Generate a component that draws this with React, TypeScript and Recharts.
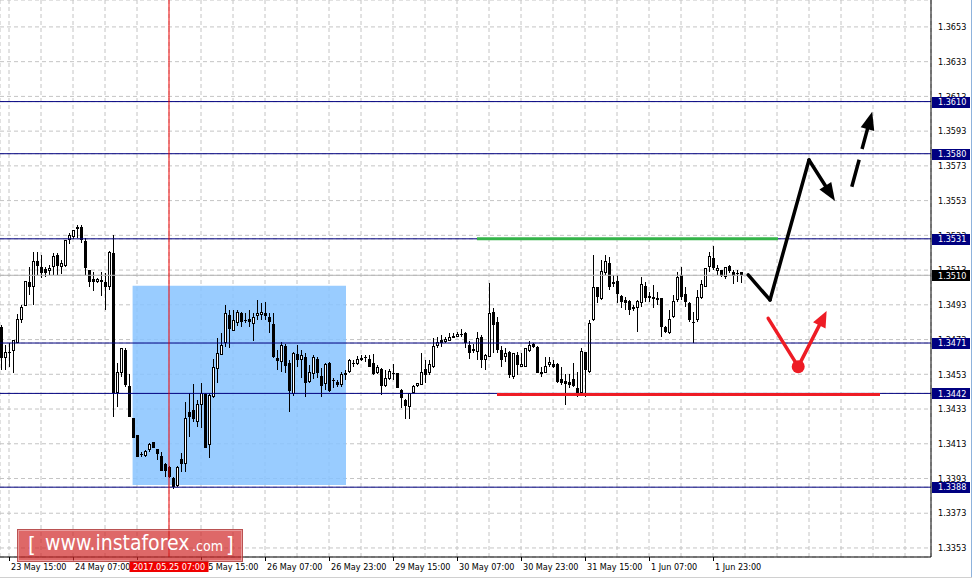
import React from 'react';
import {
  ComposedChart, Bar, XAxis, YAxis, CartesianGrid, ReferenceLine, ReferenceArea, ReferenceDot,
} from 'recharts';

// ---- hourly candles, index 0 = 23 May 13:00 ----
const opens = [
  1.34804,1.34622,1.34656,1.34666,1.34712,1.34843,1.34925,1.35063,1.35035,1.35184,
  1.35150,1.35134,1.35127,1.35150,1.35217,1.35146,1.35155,1.35303,1.35322,1.35370,
  1.35376,1.35299,1.35130,1.35077,1.35061,1.35073,1.35063,1.35035,1.35226,1.34420,
  1.34539,1.34670,1.34463,1.34276,1.34180,1.34069,1.34060,1.34094,1.34138,1.34098,
  1.34059,1.34014,1.33998,1.33931,1.33889,1.34042,1.34012,1.34315,1.34324,1.34257,
  1.34353,1.34417,1.34121,1.34397,1.34559,1.34641,1.34708,1.34871,1.34779,1.34827,
  1.34881,1.34843,1.34848,1.34820,1.34867,1.34869,1.34885,1.34862,1.34820,1.34622,
  1.34603,1.34693,1.34593,1.34417,1.34647,1.34612,1.34631,1.34488,1.34532,1.34616,
  1.34520,1.34474,1.34597,1.34497,1.34488,1.34468,1.34532,1.34541,1.34597,1.34589,
  1.34612,1.34627,1.34616,1.34593,1.34539,1.34559,1.34465,1.34503,1.34539,1.34536,
  1.34440,1.34382,1.34340,1.34424,1.34465,1.34468,1.34559,1.34539,1.34574,1.34693,
  1.34727,1.34718,1.34724,1.34737,1.34747,1.34762,1.34770,1.34699,1.34666,1.34660,
  1.34743,1.34612,1.34628,1.34887,1.34829,1.34670,1.34628,1.34660,1.34516,1.34641,
  1.34574,1.34574,1.34666,1.34702,1.34689,1.34545,1.34539,1.34583,1.34589,1.34589,
  1.34501,1.34491,1.34488,1.34501,1.34449,1.34424,1.34660,1.34545,1.34843,1.35035,
  1.34964,1.35115,1.35173,1.35050,1.35067,1.34981,1.34958,1.34954,1.34916,1.34910,
  1.34939,1.35038,1.34981,1.34961,1.34967,1.34967,1.34800,1.34766,1.34858,1.34958,
  1.35102,1.34992,1.34939,1.34829,1.34843,1.34967,1.35035,1.35146,1.35198,1.35127,
  1.35130,1.35088,1.35155,1.35117,1.35111,1.35117,
];
const highs = [
  1.34814,1.34699,1.34708,1.34727,1.34877,1.34929,1.35067,1.35150,1.35236,1.35236,
  1.35217,1.35150,1.35159,1.35230,1.35230,1.35188,1.35303,1.35342,1.35361,1.35390,
  1.35390,1.35313,1.35130,1.35121,1.35082,1.35121,1.35111,1.35242,1.35332,1.34593,
  1.34679,1.34683,1.34532,1.34276,1.34180,1.34085,1.34094,1.34136,1.34142,1.34102,
  1.34085,1.34017,1.34002,1.33937,1.34002,1.34075,1.34372,1.34424,1.34474,1.34382,
  1.34478,1.34424,1.34420,1.34616,1.34737,1.34766,1.34929,1.34900,1.34900,1.34900,
  1.34891,1.34881,1.34900,1.34881,1.34958,1.34943,1.34948,1.34881,1.34881,1.34670,
  1.34718,1.34704,1.34612,1.34660,1.34699,1.34670,1.34651,1.34583,1.34641,1.34631,
  1.34564,1.34593,1.34603,1.34507,1.34497,1.34545,1.34555,1.34616,1.34612,1.34635,
  1.34641,1.34641,1.34641,1.34647,1.34583,1.34564,1.34555,1.34559,1.34589,1.34539,
  1.34443,1.34386,1.34424,1.34468,1.34482,1.34655,1.34612,1.34612,1.34737,1.34743,
  1.34756,1.34747,1.34766,1.34766,1.34775,1.34789,1.34775,1.34724,1.34704,1.34775,
  1.34756,1.34647,1.35054,1.34910,1.34858,1.34693,1.34679,1.34666,1.34655,1.34660,
  1.34651,1.34683,1.34724,1.34708,1.34693,1.34574,1.34631,1.34631,1.34612,1.34593,
  1.34574,1.34532,1.34530,1.34597,1.34545,1.34679,1.34660,1.34843,1.35217,1.35035,
  1.35188,1.35217,1.35207,1.35102,1.35102,1.34986,1.34977,1.34958,1.34929,1.34958,
  1.35088,1.35063,1.35006,1.35044,1.35006,1.34971,1.34808,1.34900,1.34986,1.35121,
  1.35150,1.35035,1.34948,1.34891,1.35015,1.35073,1.35140,1.35236,1.35269,1.35159,
  1.35130,1.35150,1.35159,1.35130,1.35130,1.35121,
];
const lows = [
  1.34555,1.34555,1.34574,1.34536,1.34708,1.34823,1.34923,1.34986,1.34929,1.35102,
  1.35083,1.35092,1.35102,1.35102,1.35102,1.35107,1.35150,1.35280,1.35307,1.35313,
  1.35284,1.35102,1.35035,1.35012,1.35054,1.34981,1.34900,1.35015,1.34286,1.34340,
  1.34516,1.34459,1.34286,1.34161,1.34052,1.34052,1.34056,1.34085,1.34104,1.34037,
  1.33973,1.33941,1.33931,1.33868,1.33883,1.33969,1.33969,1.34171,1.34257,1.34228,
  1.34219,1.34104,1.34046,1.34392,1.34478,1.34641,1.34685,1.34679,1.34779,1.34808,
  1.34804,1.34823,1.34804,1.34724,1.34843,1.34843,1.34843,1.34766,1.34622,1.34555,
  1.34545,1.34539,1.34315,1.34405,1.34574,1.34507,1.34397,1.34478,1.34501,1.34507,
  1.34401,1.34440,1.34430,1.34449,1.34459,1.34459,1.34497,1.34536,1.34574,1.34583,
  1.34608,1.34603,1.34570,1.34526,1.34532,1.34411,1.34459,1.34497,1.34497,1.34449,
  1.34334,1.34271,1.34271,1.34420,1.34459,1.34468,1.34478,1.34526,1.34564,1.34679,
  1.34689,1.34708,1.34724,1.34737,1.34743,1.34747,1.34679,1.34616,1.34651,1.34612,
  1.34564,1.34555,1.34628,1.34655,1.34655,1.34570,1.34603,1.34507,1.34501,1.34526,
  1.34574,1.34570,1.34660,1.34679,1.34536,1.34516,1.34536,1.34574,1.34564,1.34478,
  1.34468,1.34353,1.34449,1.34459,1.34401,1.34420,1.34401,1.34539,1.34839,1.34939,
  1.34958,1.35102,1.35015,1.35035,1.34939,1.34910,1.34900,1.34871,1.34896,1.34775,
  1.34916,1.34948,1.34948,1.34910,1.34929,1.34747,1.34766,1.34762,1.34852,1.34948,
  1.34958,1.34916,1.34833,1.34708,1.34833,1.34962,1.35035,1.35121,1.35130,1.35102,
  1.35092,1.35077,1.35111,1.35050,1.35063,1.35058,
];
const closes = [
  1.34622,1.34660,1.34650,1.34727,1.34846,1.34916,1.35067,1.35035,1.35184,1.35155,
  1.35115,1.35111,1.35144,1.35211,1.35155,1.35173,1.35303,1.35332,1.35361,1.35380,
  1.35303,1.35140,1.35063,1.35059,1.35077,1.35063,1.35035,1.35236,1.34420,1.34545,
  1.34679,1.34468,1.34286,1.34165,1.34056,1.34069,1.34088,1.34129,1.34108,1.34071,
  1.33975,1.33975,1.33937,1.33883,1.33998,1.34014,1.34276,1.34282,1.34271,1.34357,
  1.34424,1.34108,1.34411,1.34574,1.34651,1.34699,1.34881,1.34789,1.34843,1.34891,
  1.34829,1.34843,1.34833,1.34862,1.34881,1.34887,1.34867,1.34829,1.34628,1.34608,
  1.34699,1.34578,1.34436,1.34655,1.34612,1.34641,1.34478,1.34541,1.34631,1.34536,
  1.34465,1.34589,1.34436,1.34497,1.34468,1.34532,1.34539,1.34612,1.34597,1.34616,
  1.34622,1.34627,1.34574,1.34530,1.34574,1.34463,1.34507,1.34551,1.34532,1.34449,
  1.34392,1.34349,1.34420,1.34463,1.34478,1.34545,1.34526,1.34589,1.34693,1.34718,
  1.34708,1.34731,1.34747,1.34752,1.34762,1.34762,1.34708,1.34655,1.34674,1.34737,
  1.34612,1.34641,1.34881,1.34814,1.34670,1.34612,1.34651,1.34526,1.34651,1.34584,
  1.34589,1.34679,1.34699,1.34685,1.34539,1.34532,1.34578,1.34603,1.34574,1.34488,
  1.34478,1.34474,1.34468,1.34463,1.34420,1.34666,1.34555,1.34827,1.35031,1.34973,
  1.35127,1.35184,1.35035,1.35063,1.34992,1.34948,1.34942,1.34900,1.34904,1.34954,
  1.35050,1.34967,1.34967,1.34973,1.34958,1.34804,1.34772,1.34846,1.34952,1.35088,
  1.34977,1.34948,1.34843,1.34829,1.34977,1.35048,1.35140,1.35211,1.35140,1.35140,
  1.35096,1.35146,1.35125,1.35098,1.35111,1.35102,
];

// ---- axes ----
const xDomain = [-0.25, 232.5];
const yDomain = [1.33478, 1.36685];
const gridIndex = [2,10,18,26,34,42,50,58,66,74,82,90,98,106,114,122,130,138,146,154,162,170,178,186,194,202,210,218,226];
const xTickIndex = [2, 18, 34, 50, 66, 82, 98, 114, 130, 146, 162, 178];
const xTickText = [
  '23 May 15:00', '24 May 07:00', '24 May 23:00', '25 May 15:00', '26 May 07:00', '26 May 23:00',
  '29 May 15:00', '30 May 07:00', '30 May 23:00', '31 May 15:00', '1 Jun 07:00', '1 Jun 23:00',
];
const yTicks = [1.3353,1.3373,1.3393,1.3413,1.3433,1.3453,1.3473,1.3493,1.3513,1.3533,1.3553,1.3573,1.3593,1.3613,1.3633,1.3653];

// ---- annotations (data coordinates: bar index, price) ----
const levels = [1.3610, 1.3580, 1.3531, 1.3471, 1.3442, 1.3388];
const bidPrice = 1.3510;
const crossIndex = 42;
const crossLabel = '2017.05.25 07:00';
const zoneX = [32.9, 86.25];
const zoneY = [1.33893, 1.35040];
const resistanceSeg = [{ x: 119, y: 1.3531 }, { x: 194.25, y: 1.3531 }];
const supportSeg = [{ x: 124, y: 1.34413 }, { x: 219.75, y: 1.34413 }];
const mainPath = [
  { x: 186.8, y: 1.35102 }, { x: 192.25, y: 1.34958 }, { x: 202, y: 1.35764 }, { x: 208.5, y: 1.35528 },
];
const dashedPath = [{ x: 212.7, y: 1.35610 }, { x: 217.8, y: 1.36042 }];
const altPath = [{ x: 191.8, y: 1.34852 }, { x: 199.3, y: 1.34574 }, { x: 206.4, y: 1.34894 }];

const FONT = "'DejaVu Sans Condensed', 'DejaVu Sans', sans-serif";
const TXT = { fontSize: 9, fontFamily: FONT, fontStretch: 'condensed' } as any;

const candles = opens.map((o, i) => ({
  i, o, h: highs[i], l: lows[i], c: closes[i], range: [lows[i], highs[i]],
}));

// tags drawn last so that they cover the ordinary tick labels
const yAxisTicks = [...yTicks, bidPrice, ...levels];
const xAxisTicks = [...gridIndex.filter((g) => g !== crossIndex), crossIndex];

const Candle = (props: any) => {
  const { x, y, width, height, payload } = props;
  if (x == null || y == null || !payload) return null;
  const { o, h, l, c } = payload;
  const top = Math.min(y, y + height);
  const hgt = Math.abs(height);
  const cx = Math.round(x + width / 2);
  const ratio = h !== l ? hgt / (h - l) : 0;
  const yOf = (p: number) => top + (h - p) * ratio;
  const bTop = Math.round(Math.min(yOf(o), yOf(c)));
  const bBot = Math.round(Math.max(yOf(o), yOf(c)));
  let body;
  if (o === c || bBot - bTop < 1) {
    body = <line x1={cx - 1} x2={cx + 2} y1={bTop + 0.5} y2={bTop + 0.5} stroke="#000" strokeWidth={1} />;
  } else if (c > o) {
    body = <rect x={cx - 0.5} y={bTop + 0.5} width={2} height={Math.max(bBot - bTop - 1, 0.5)} fill="#fff" stroke="#000" strokeWidth={1} />;
  } else {
    body = <rect x={cx - 1} y={bTop} width={3} height={Math.max(bBot - bTop, 1)} fill="#000" />;
  }
  return (
    <g shapeRendering="crispEdges">
      <line x1={cx + 0.5} x2={cx + 0.5} y1={Math.round(top)} y2={Math.round(top + hgt)} stroke="#000" strokeWidth={1} />
      {body}
    </g>
  );
};

const YTick = (props: any) => {
  const { x, y, payload } = props;
  const v = payload.value as number;
  const isBid = v === bidPrice;
  const isLevel = levels.indexOf(v) >= 0;
  if (isBid || isLevel) {
    return (
      <g>
        <rect x={x - 6} y={Math.round(y) - 5} width={38} height={11} fill={isBid ? '#000' : '#000080'} />
        <text x={x} y={y} dy="0.36em" fill="#fff" style={TXT}>{v.toFixed(4)}</text>
      </g>
    );
  }
  return <text x={x} y={y} dy="0.36em" fill="#000" style={TXT}>{v.toFixed(4)}</text>;
};

const XTick = (props: any) => {
  const { x, y, payload } = props;
  const v = payload.value as number;
  if (v === crossIndex) {
    return (
      <g>
        <rect x={x - 39.5} y={y + 3} width={79} height={12} fill="#f00000" />
        <text x={x} y={y + 12.5} textAnchor="middle" fill="#fff" style={TXT}>{crossLabel}</text>
      </g>
    );
  }
  const k = xTickIndex.indexOf(v);
  if (k < 0) return <g />;
  return (
    <g>
      <line x1={Math.round(x) + 0.5} x2={Math.round(x) + 0.5} y1={y} y2={y + 4} stroke="#000" />
      <text x={x + 2} y={y + 12.5} textAnchor="start" fill="#000" style={TXT}>{xTickText[k]}</text>
    </g>
  );
};

const makeArrow = (color: string, w: number, head: boolean, dash?: string, headLen = 18, headHalf = 7) => (p: any) => {
  const { x1, y1, x2, y2 } = p;
  if ([x1, y1, x2, y2].some((v) => v == null || Number.isNaN(v))) return <g />;
  const dx = x2 - x1;
  const dy = y2 - y1;
  const len = Math.hypot(dx, dy) || 1;
  const ux = dx / len;
  const uy = dy / len;
  const bx = x2 - ux * headLen;
  const by = y2 - uy * headLen;
  const ex = head ? x2 - ux * (headLen - 3) : x2;
  const ey = head ? y2 - uy * (headLen - 3) : y2;
  return (
    <g>
      <line x1={x1} y1={y1} x2={ex} y2={ey} stroke={color} strokeWidth={w} strokeDasharray={dash} strokeLinecap={dash ? 'butt' : 'round'} />
      {head && (
        <polygon
          points={`${x2},${y2} ${bx - uy * headHalf},${by + ux * headHalf} ${bx + uy * headHalf},${by - ux * headHalf}`}
          fill={color}
        />
      )}
    </g>
  );
};

const segs = (path: { x: number; y: number }[]) =>
  path.slice(1).map((pt, k) => [path[k], pt] as [{ x: number; y: number }, { x: number; y: number }]);

export default function App() {
  const mainSegs = segs(mainPath);
  const altSegs = segs(altPath);
  return (
    <div style={{ position: 'absolute', left: 0, top: 0, width: 975, height: 580, background: '#fff', fontFamily: FONT, fontStretch: 'condensed' }}>
      <ComposedChart width={975} height={580} data={candles} margin={{ top: 0, right: 0, bottom: 0, left: 0 }}>
        <CartesianGrid stroke="#c4c4c4" strokeDasharray="4 3" />
        <ReferenceArea x1={zoneX[0]} x2={zoneX[1]} y1={zoneY[0]} y2={zoneY[1]} fill="rgb(135,195,255)" fillOpacity={0.85} stroke="none" ifOverflow="visible" />
        <XAxis
          dataKey="i" type="number" domain={xDomain} allowDataOverflow ticks={xAxisTicks} interval={0}
          height={23} axisLine={{ stroke: '#000' }} tickLine={false} tickSize={0} tickMargin={0} tick={<XTick />}
        />
        <YAxis
          orientation="right" type="number" domain={yDomain} allowDataOverflow ticks={yAxisTicks} interval={0} width={44}
          axisLine={{ stroke: '#000' }} tickLine={false} tickSize={0} tickMargin={7} tick={<YTick />}
        />
        <ReferenceLine y={bidPrice} stroke="#b4b4b4" strokeWidth={1} />
        <Bar dataKey="range" shape={Candle} barSize={4} isAnimationActive={false} />
        {levels.map((lv) => (
          <ReferenceLine key={lv} y={lv} stroke="#000080" strokeWidth={1} />
        ))}
        <ReferenceLine segment={resistanceSeg} stroke="#35b44a" strokeWidth={3} />
        <ReferenceLine segment={supportSeg} stroke="#ee1c25" strokeWidth={3} />
        <ReferenceLine x={crossIndex} stroke="#f00000" strokeWidth={1} />
        {mainSegs.map((s, k) => (
          <ReferenceLine key={'m' + k} segment={s} shape={makeArrow('#000', 3.5, k === mainSegs.length - 1)} />
        ))}
        <ReferenceLine segment={dashedPath} shape={makeArrow('#000', 3.5, true, '28 11')} />
        {altSegs.map((s, k) => (
          <ReferenceLine key={'a' + k} segment={s} shape={makeArrow('#ee1c25', 3.5, k === altSegs.length - 1, undefined, 16, 7)} />
        ))}
        <ReferenceDot x={altPath[1].x} y={altPath[1].y} r={6.5} fill="#ee1c25" stroke="none" />
      </ComposedChart>
      <div style={{ position: 'absolute', left: 971, top: 0, width: 1, height: 578, background: '#8fb3dd' }} />
      <div style={{ position: 'absolute', left: 0, top: 577, width: 972, height: 1, background: '#d0d0d0' }} />
      <div
        style={{
          position: 'absolute', left: 17, top: 529, width: 226, height: 33, boxSizing: 'border-box',
          background: 'rgba(208,40,40,0.7)', border: '1px solid rgba(150,60,60,0.5)',
          boxShadow: 'inset 0 0 0 1px rgba(255,255,255,0.35)', color: '#fff',
          fontFamily: "'DejaVu Sans', sans-serif", fontStretch: 'condensed', whiteSpace: 'nowrap',
        }}
      >
        <span style={{ position: 'absolute', left: 10, top: 2, fontSize: 22 }}>[</span>
        <span style={{ position: 'absolute', left: 27, top: 1, fontSize: 21 }}>www.instaforex</span>
        <span style={{ position: 'absolute', left: 174, top: 8, fontSize: 14 }}>.com</span>
        <span style={{ position: 'absolute', left: 208, top: 2, fontSize: 22 }}>]</span>
      </div>
    </div>
  );
}
